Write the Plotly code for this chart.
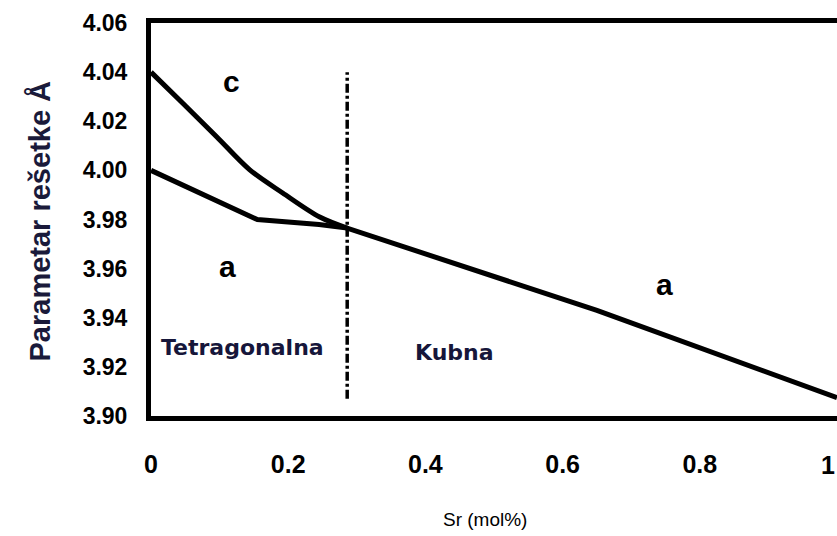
import plotly.graph_objects as go

# --- data ---
c_x = [0.0, 0.046, 0.096, 0.144, 0.192, 0.246, 0.286]
c_y = [4.040, 4.0274, 4.0136, 4.0002, 3.9908, 3.981, 3.9765]

a_x = [0.0, 0.155, 0.245, 0.286, 0.650, 1.0]
a_y = [4.000, 3.980, 3.978, 3.9765, 3.943, 3.9075]

boundary_x = [0.286, 0.286]
boundary_y = [3.907, 4.040]

x_ticks = [0, 0.2, 0.4, 0.6, 0.8, 1.0]
x_ticklabels = ["0", "0.2", "0.4", "0.6", "0.8", "1"]
y_ticks = [3.90, 3.92, 3.94, 3.96, 3.98, 4.00, 4.02, 4.04, 4.06]
y_ticklabels = ["%.2f" % v for v in y_ticks]

ARIAL = "Liberation Sans, Arial, sans-serif"

fig = go.Figure()
fig.add_trace(go.Scatter(x=c_x, y=c_y, mode="lines",
                         line=dict(color="black", width=5, shape="spline", smoothing=0.9),
                         showlegend=False, hoverinfo="skip"))
fig.add_trace(go.Scatter(x=a_x, y=a_y, mode="lines",
                         line=dict(color="black", width=5),
                         showlegend=False, hoverinfo="skip"))
fig.add_trace(go.Scatter(x=boundary_x, y=boundary_y, mode="lines",
                         line=dict(color="black", width=3.5, dash="9px,3px,3px,3px"),
                         showlegend=False, hoverinfo="skip"))

annotations = [
    dict(x=0.118, y=4.036, text="<b>c</b>", font=dict(family=ARIAL, size=30, color="black")),
    dict(x=0.112, y=3.9607, text="<b>a</b>", font=dict(family=ARIAL, size=30, color="black")),
    dict(x=0.749, y=3.9534, text="<b>a</b>", font=dict(family=ARIAL, size=30, color="black")),
    dict(x=0.134, y=3.928, text="<b>Tetragonalna</b>",
         font=dict(family="DejaVu Sans, sans-serif", size=22, color="#16163a")),
    dict(x=0.443, y=3.926, text="<b>Kubna</b>",
         font=dict(family="DejaVu Sans, sans-serif", size=22, color="#16163a")),
]
for a in annotations:
    a.update(xref="x", yref="y", showarrow=False, xanchor="center", yanchor="middle")

# last x tick label sits at the page edge
annotations.append(dict(xref="x", yref="paper", x=x_ticks[-1], y=-0.1247,
                        text="<b>%s</b>" % x_ticklabels[-1], showarrow=False,
                        xanchor="right", xshift=0, yanchor="middle",
                        font=dict(family=ARIAL, size=25, color="black")))
annotations.append(dict(xref="paper", yref="paper", x=0.487, y=-0.2646,
                        text="Sr (mol%)", showarrow=False, xanchor="center", yanchor="middle",
                        font=dict(family=ARIAL, size=19, color="black")))
annotations.append(dict(xref="paper", yref="paper", x=-0.1618, y=0.495,
                        text="<b>Parametar rešetke Å</b>", textangle=-90, showarrow=False,
                        xanchor="center", yanchor="middle",
                        font=dict(family=ARIAL, size=29, color="#1a1a3a")))

fig.update_layout(
    width=837, height=536,
    margin=dict(l=151, r=0, t=23, b=120),
    paper_bgcolor="white", plot_bgcolor="white",
    annotations=annotations,
    xaxis=dict(range=[0, 1.0], tickvals=x_ticks, ticktext=x_ticklabels,
               showgrid=False, zeroline=False, showline=True, linecolor="black",
               linewidth=5, mirror=True, ticks="outside", ticklen=22,
               tickcolor="rgba(0,0,0,0)",
               tickfont=dict(family=ARIAL, size=25, color="black", weight="bold")),
    yaxis=dict(range=[3.90, 4.06], tickvals=y_ticks, ticktext=y_ticklabels,
               showgrid=False, zeroline=False, showline=True, linecolor="black",
               linewidth=5, ticks="outside", ticklen=14, tickcolor="rgba(0,0,0,0)",
               tickfont=dict(family=ARIAL, size=23, color="black", weight="bold")),
)

fig.write_html("out.html",
               config={"displayModeBar": False},
               post_script="document.body.style.margin='0';document.body.style.overflow='hidden';")
